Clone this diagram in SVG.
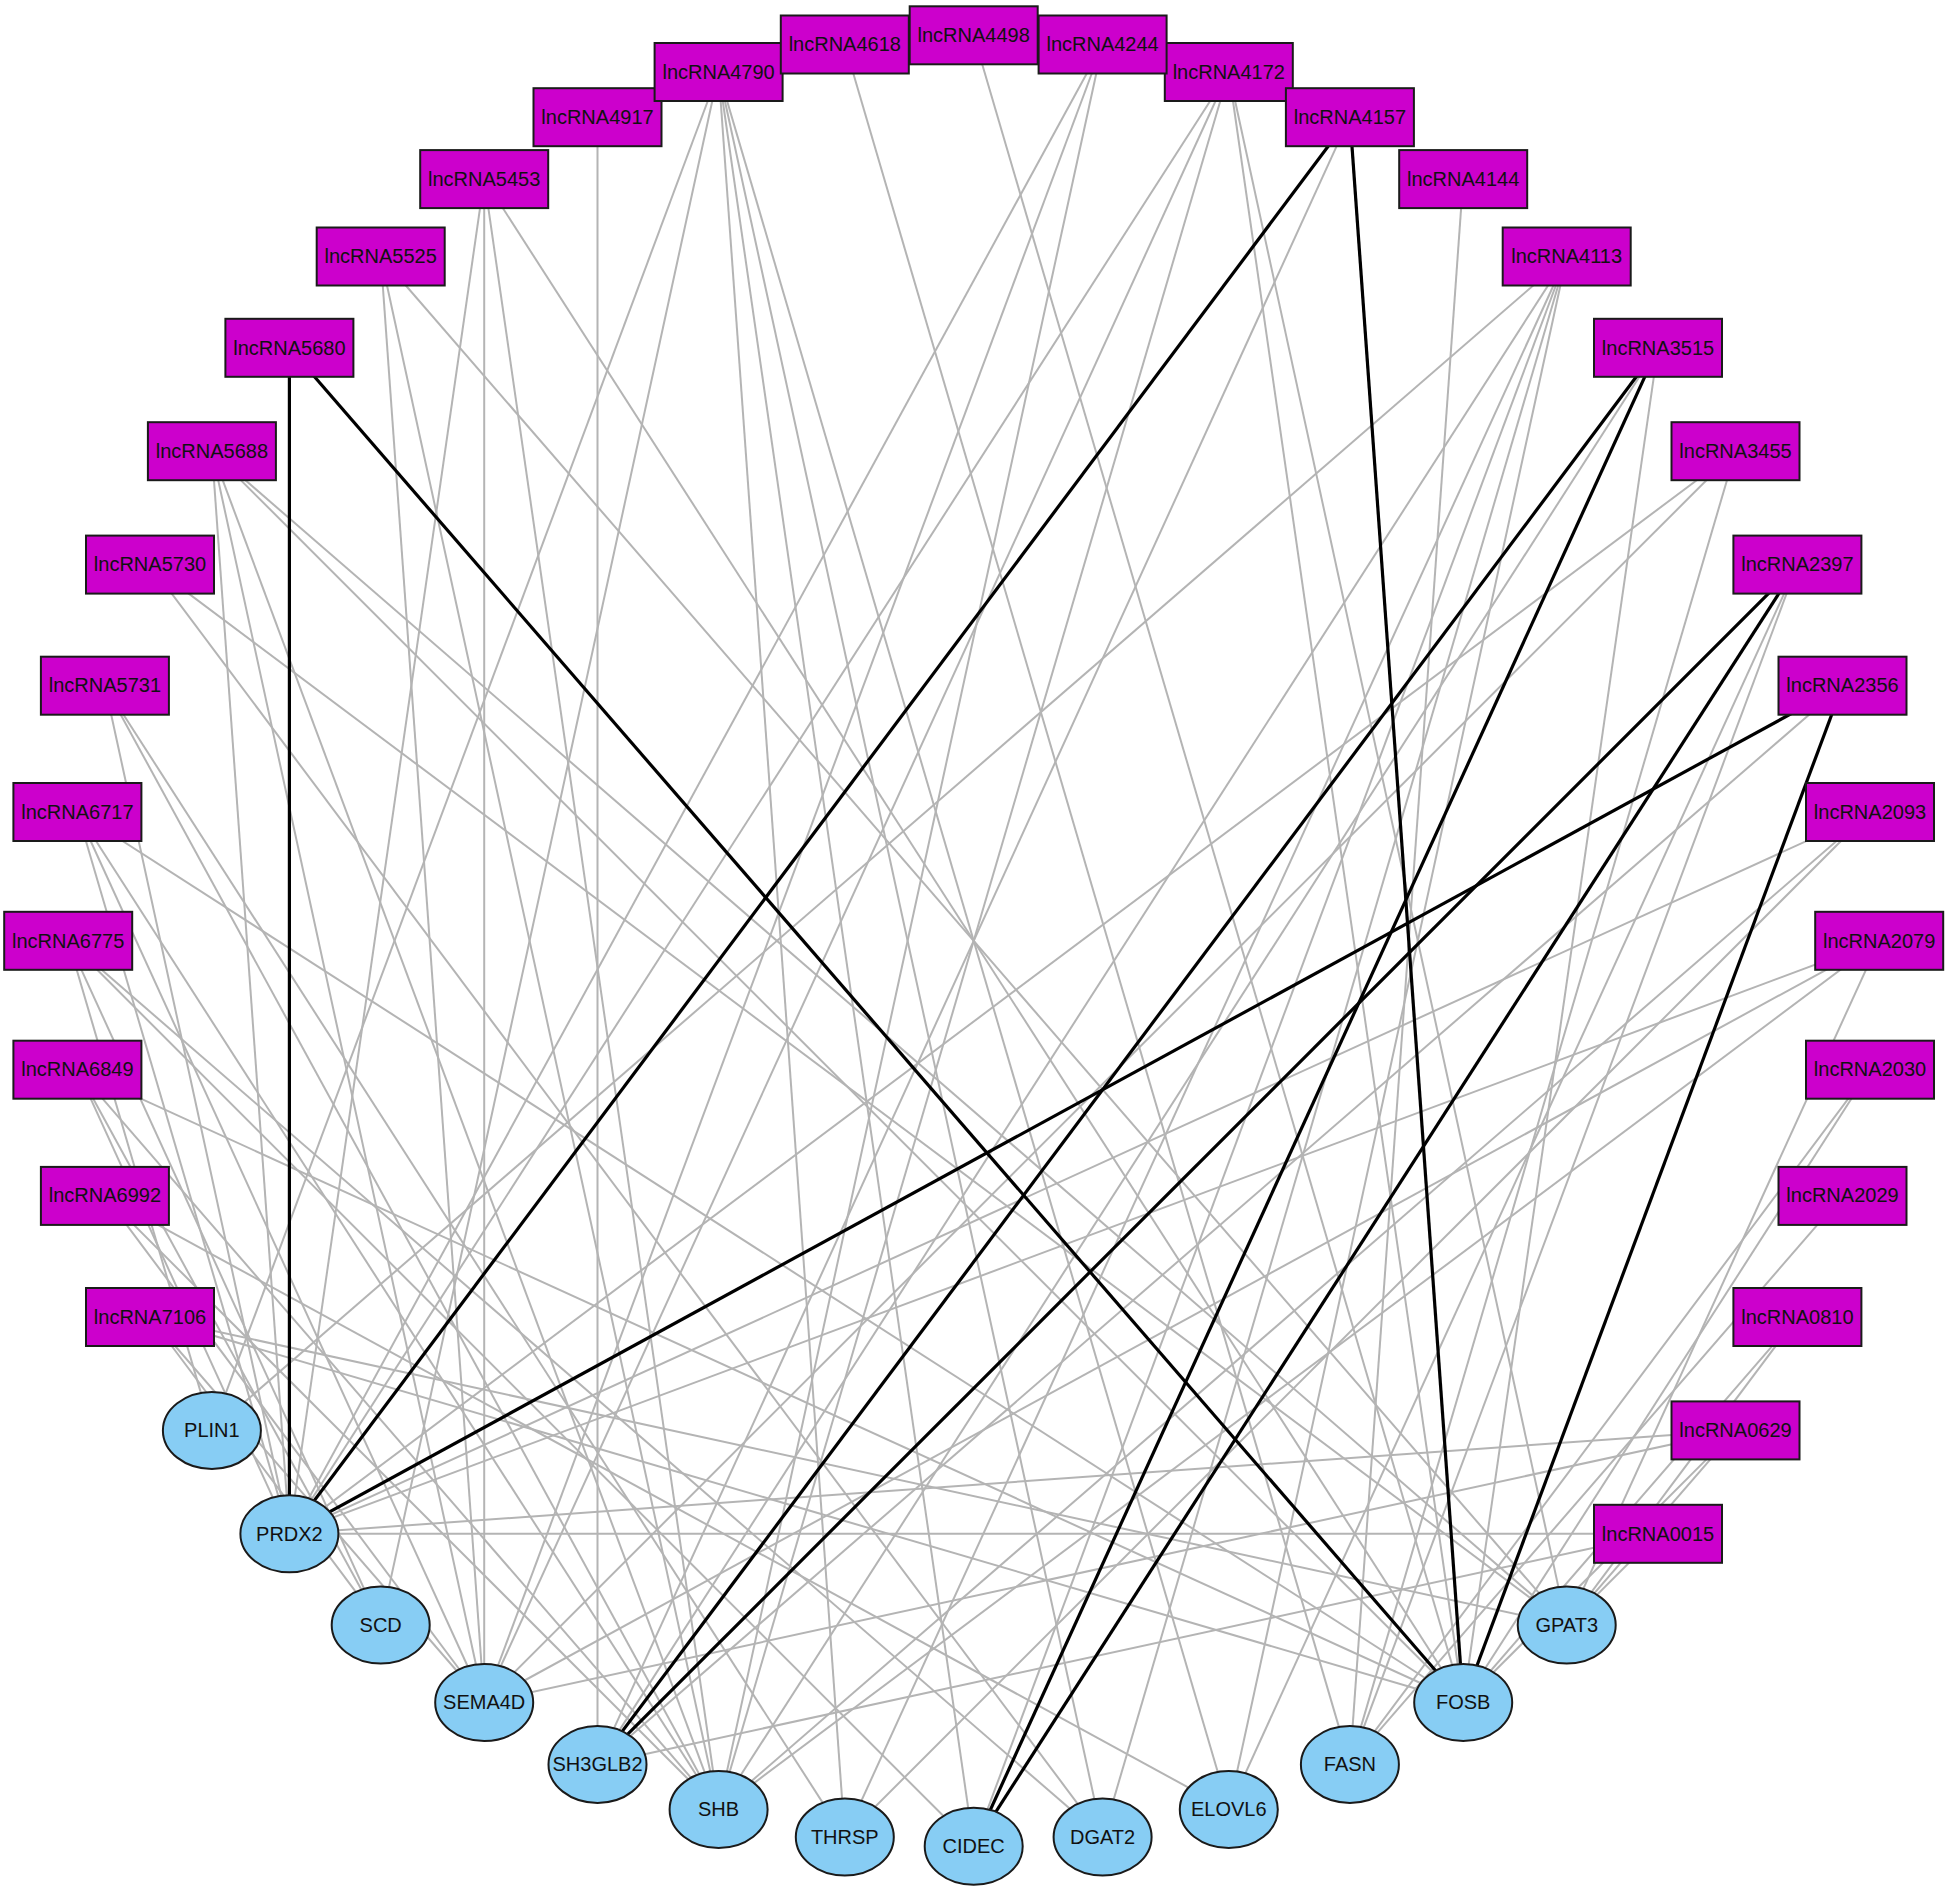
<svg xmlns="http://www.w3.org/2000/svg" width="1950" height="1892" viewBox="0 0 1950 1892">
<style>
.e{stroke:#b4b4b4;stroke-width:2;fill:none}
.b{stroke:#000;stroke-width:3.2;fill:none}
.r{fill:#cc00cc;stroke:#1a1a1a;stroke-width:2}
.o{fill:#87cdf4;stroke:#1a1a1a;stroke-width:2}
text{font-family:"Liberation Sans",Arial,sans-serif;font-size:20px;fill:#111;text-anchor:middle}
</style>
<rect width="1950" height="1892" fill="#fff"/>
<g id="edges">
<line class="e" x1="597.5" y1="117.2" x2="597.5" y2="1764.4"/>
<line class="e" x1="718.6" y1="72" x2="211.9" y2="1430.4"/>
<line class="e" x1="718.6" y1="72" x2="380.7" y2="1625.1"/>
<line class="e" x1="718.6" y1="72" x2="844.8" y2="1837.1"/>
<line class="e" x1="718.6" y1="72" x2="973.7" y2="1846.3"/>
<line class="e" x1="718.6" y1="72" x2="1102.6" y2="1837.1"/>
<line class="e" x1="718.6" y1="72" x2="1228.8" y2="1809.6"/>
<line class="e" x1="844.8" y1="44.5" x2="1349.9" y2="1764.4"/>
<line class="e" x1="973.7" y1="35.3" x2="1463.2" y2="1702.5"/>
<line class="e" x1="1102.6" y1="44.5" x2="289.4" y2="1533.8"/>
<line class="e" x1="1102.6" y1="44.5" x2="484.2" y2="1702.5"/>
<line class="e" x1="1102.6" y1="44.5" x2="718.6" y2="1809.6"/>
<line class="e" x1="1228.8" y1="72" x2="289.4" y2="1533.8"/>
<line class="e" x1="1228.8" y1="72" x2="484.2" y2="1702.5"/>
<line class="e" x1="1228.8" y1="72" x2="718.6" y2="1809.6"/>
<line class="e" x1="1228.8" y1="72" x2="1463.2" y2="1702.5"/>
<line class="e" x1="1228.8" y1="72" x2="1566.7" y2="1625.1"/>
<line class="e" x1="1349.9" y1="117.2" x2="597.5" y2="1764.4"/>
<line class="e" x1="1463.2" y1="179.1" x2="1349.9" y2="1764.4"/>
<line class="e" x1="1566.7" y1="256.5" x2="211.9" y2="1430.4"/>
<line class="e" x1="1566.7" y1="256.5" x2="597.5" y2="1764.4"/>
<line class="e" x1="1566.7" y1="256.5" x2="844.8" y2="1837.1"/>
<line class="e" x1="1566.7" y1="256.5" x2="973.7" y2="1846.3"/>
<line class="e" x1="1566.7" y1="256.5" x2="1102.6" y2="1837.1"/>
<line class="e" x1="1566.7" y1="256.5" x2="1228.8" y2="1809.6"/>
<line class="e" x1="1658" y1="347.8" x2="718.6" y2="1809.6"/>
<line class="e" x1="1658" y1="347.8" x2="1463.2" y2="1702.5"/>
<line class="e" x1="1735.5" y1="451.2" x2="289.4" y2="1533.8"/>
<line class="e" x1="1735.5" y1="451.2" x2="484.2" y2="1702.5"/>
<line class="e" x1="1735.5" y1="451.2" x2="1349.9" y2="1764.4"/>
<line class="e" x1="1797.4" y1="564.6" x2="1228.8" y2="1809.6"/>
<line class="e" x1="1797.4" y1="564.6" x2="1349.9" y2="1764.4"/>
<line class="e" x1="1842.5" y1="685.7" x2="597.5" y2="1764.4"/>
<line class="e" x1="1870" y1="812" x2="289.4" y2="1533.8"/>
<line class="e" x1="1870" y1="812" x2="718.6" y2="1809.6"/>
<line class="e" x1="1870" y1="812" x2="844.8" y2="1837.1"/>
<line class="e" x1="1879.2" y1="940.8" x2="289.4" y2="1533.8"/>
<line class="e" x1="1879.2" y1="940.8" x2="484.2" y2="1702.5"/>
<line class="e" x1="1879.2" y1="940.8" x2="718.6" y2="1809.6"/>
<line class="e" x1="1879.2" y1="940.8" x2="1566.7" y2="1625.1"/>
<line class="e" x1="1870" y1="1069.7" x2="1349.9" y2="1764.4"/>
<line class="e" x1="1870" y1="1069.7" x2="1463.2" y2="1702.5"/>
<line class="e" x1="1842.5" y1="1195.9" x2="1349.9" y2="1764.4"/>
<line class="e" x1="1797.4" y1="1317" x2="1566.7" y2="1625.1"/>
<line class="e" x1="1797.4" y1="1317" x2="1463.2" y2="1702.5"/>
<line class="e" x1="1735.5" y1="1430.4" x2="289.4" y2="1533.8"/>
<line class="e" x1="1735.5" y1="1430.4" x2="484.2" y2="1702.5"/>
<line class="e" x1="1735.5" y1="1430.4" x2="1463.2" y2="1702.5"/>
<line class="e" x1="1735.5" y1="1430.4" x2="1566.7" y2="1625.1"/>
<line class="e" x1="1658" y1="1533.8" x2="289.4" y2="1533.8"/>
<line class="e" x1="1658" y1="1533.8" x2="597.5" y2="1764.4"/>
<line class="e" x1="1658" y1="1533.8" x2="1566.7" y2="1625.1"/>
<line class="e" x1="484.2" y1="179.1" x2="289.4" y2="1533.8"/>
<line class="e" x1="484.2" y1="179.1" x2="484.2" y2="1702.5"/>
<line class="e" x1="484.2" y1="179.1" x2="718.6" y2="1809.6"/>
<line class="e" x1="484.2" y1="179.1" x2="1463.2" y2="1702.5"/>
<line class="e" x1="380.7" y1="256.5" x2="484.2" y2="1702.5"/>
<line class="e" x1="380.7" y1="256.5" x2="718.6" y2="1809.6"/>
<line class="e" x1="380.7" y1="256.5" x2="1566.7" y2="1625.1"/>
<line class="e" x1="211.9" y1="451.2" x2="289.4" y2="1533.8"/>
<line class="e" x1="211.9" y1="451.2" x2="484.2" y2="1702.5"/>
<line class="e" x1="211.9" y1="451.2" x2="718.6" y2="1809.6"/>
<line class="e" x1="211.9" y1="451.2" x2="1463.2" y2="1702.5"/>
<line class="e" x1="211.9" y1="451.2" x2="1566.7" y2="1625.1"/>
<line class="e" x1="150" y1="564.6" x2="1102.6" y2="1837.1"/>
<line class="e" x1="150" y1="564.6" x2="1566.7" y2="1625.1"/>
<line class="e" x1="104.9" y1="685.7" x2="289.4" y2="1533.8"/>
<line class="e" x1="104.9" y1="685.7" x2="718.6" y2="1809.6"/>
<line class="e" x1="104.9" y1="685.7" x2="844.8" y2="1837.1"/>
<line class="e" x1="77.4" y1="812" x2="289.4" y2="1533.8"/>
<line class="e" x1="77.4" y1="812" x2="484.2" y2="1702.5"/>
<line class="e" x1="77.4" y1="812" x2="718.6" y2="1809.6"/>
<line class="e" x1="77.4" y1="812" x2="1463.2" y2="1702.5"/>
<line class="e" x1="68.2" y1="940.8" x2="211.9" y2="1430.4"/>
<line class="e" x1="68.2" y1="940.8" x2="380.7" y2="1625.1"/>
<line class="e" x1="68.2" y1="940.8" x2="973.7" y2="1846.3"/>
<line class="e" x1="68.2" y1="940.8" x2="1102.6" y2="1837.1"/>
<line class="e" x1="77.4" y1="1069.7" x2="289.4" y2="1533.8"/>
<line class="e" x1="77.4" y1="1069.7" x2="380.7" y2="1625.1"/>
<line class="e" x1="77.4" y1="1069.7" x2="718.6" y2="1809.6"/>
<line class="e" x1="77.4" y1="1069.7" x2="1463.2" y2="1702.5"/>
<line class="e" x1="104.9" y1="1195.9" x2="484.2" y2="1702.5"/>
<line class="e" x1="104.9" y1="1195.9" x2="718.6" y2="1809.6"/>
<line class="e" x1="104.9" y1="1195.9" x2="1228.8" y2="1809.6"/>
<line class="e" x1="150" y1="1317" x2="380.7" y2="1625.1"/>
<line class="e" x1="150" y1="1317" x2="484.2" y2="1702.5"/>
<line class="e" x1="150" y1="1317" x2="1463.2" y2="1702.5"/>
<line class="e" x1="150" y1="1317" x2="1566.7" y2="1625.1"/>
<line class="b" x1="289.4" y1="347.8" x2="289.4" y2="1533.8"/>
<line class="b" x1="289.4" y1="347.8" x2="1463.2" y2="1702.5"/>
<line class="b" x1="1349.9" y1="117.2" x2="289.4" y2="1533.8"/>
<line class="b" x1="1349.9" y1="117.2" x2="1463.2" y2="1702.5"/>
<line class="b" x1="1658" y1="347.8" x2="597.5" y2="1764.4"/>
<line class="b" x1="1658" y1="347.8" x2="973.7" y2="1846.3"/>
<line class="b" x1="1797.4" y1="564.6" x2="597.5" y2="1764.4"/>
<line class="b" x1="1797.4" y1="564.6" x2="973.7" y2="1846.3"/>
<line class="b" x1="1842.5" y1="685.7" x2="289.4" y2="1533.8"/>
<line class="b" x1="1842.5" y1="685.7" x2="1463.2" y2="1702.5"/>
</g>
<g id="nodes">
<g id="n4498"><rect class="r" x="909.7" y="6.3" width="128" height="58"/><text x="973.7" y="42">lncRNA4498</text></g>
<g id="n4172"><rect class="r" x="1164.8" y="43" width="128" height="58"/><text x="1228.8" y="79">lncRNA4172</text></g>
<g id="n4244"><rect class="r" x="1038.6" y="15.5" width="128" height="58"/><text x="1102.6" y="51">lncRNA4244</text></g>
<g id="n4157"><rect class="r" x="1285.9" y="88.2" width="128" height="58"/><text x="1349.9" y="124">lncRNA4157</text></g>
<g id="n4144"><rect class="r" x="1399.2" y="150.1" width="128" height="58"/><text x="1463.2" y="186">lncRNA4144</text></g>
<g id="n4113"><rect class="r" x="1502.7" y="227.5" width="128" height="58"/><text x="1566.7" y="263">lncRNA4113</text></g>
<g id="n3515"><rect class="r" x="1594" y="318.8" width="128" height="58"/><text x="1658" y="355">lncRNA3515</text></g>
<g id="n3455"><rect class="r" x="1671.5" y="422.2" width="128" height="58"/><text x="1735.5" y="458">lncRNA3455</text></g>
<g id="n2397"><rect class="r" x="1733.4" y="535.6" width="128" height="58"/><text x="1797.4" y="571">lncRNA2397</text></g>
<g id="n2356"><rect class="r" x="1778.5" y="656.7" width="128" height="58"/><text x="1842.5" y="692">lncRNA2356</text></g>
<g id="n2093"><rect class="r" x="1806" y="783" width="128" height="58"/><text x="1870" y="819">lncRNA2093</text></g>
<g id="n2079"><rect class="r" x="1815.2" y="911.8" width="128" height="58"/><text x="1879.2" y="948">lncRNA2079</text></g>
<g id="n2030"><rect class="r" x="1806" y="1040.7" width="128" height="58"/><text x="1870" y="1076">lncRNA2030</text></g>
<g id="n2029"><rect class="r" x="1778.5" y="1166.9" width="128" height="58"/><text x="1842.5" y="1202">lncRNA2029</text></g>
<g id="n0810"><rect class="r" x="1733.4" y="1288" width="128" height="58"/><text x="1797.4" y="1324">lncRNA0810</text></g>
<g id="n0629"><rect class="r" x="1671.5" y="1401.4" width="128" height="58"/><text x="1735.5" y="1437">lncRNA0629</text></g>
<g id="n0015"><rect class="r" x="1594" y="1504.8" width="128" height="58"/><text x="1658" y="1541">lncRNA0015</text></g>
<g id="nGPAT3"><ellipse class="o" cx="1566.7" cy="1625.1" rx="49" ry="38.5"/><text x="1566.7" y="1632">GPAT3</text></g>
<g id="nFOSB"><ellipse class="o" cx="1463.2" cy="1702.5" rx="49" ry="38.5"/><text x="1463.2" y="1709">FOSB</text></g>
<g id="nFASN"><ellipse class="o" cx="1349.9" cy="1764.4" rx="49" ry="38.5"/><text x="1349.9" y="1771">FASN</text></g>
<g id="nELOVL6"><ellipse class="o" cx="1228.8" cy="1809.6" rx="49" ry="38.5"/><text x="1228.8" y="1816">ELOVL6</text></g>
<g id="nDGAT2"><ellipse class="o" cx="1102.6" cy="1837.1" rx="49" ry="38.5"/><text x="1102.6" y="1844">DGAT2</text></g>
<g id="nCIDEC"><ellipse class="o" cx="973.7" cy="1846.3" rx="49" ry="38.5"/><text x="973.7" y="1853">CIDEC</text></g>
<g id="nTHRSP"><ellipse class="o" cx="844.8" cy="1837.1" rx="49" ry="38.5"/><text x="844.8" y="1844">THRSP</text></g>
<g id="nSHB"><ellipse class="o" cx="718.6" cy="1809.6" rx="49" ry="38.5"/><text x="718.6" y="1816">SHB</text></g>
<g id="nSH3GLB2"><ellipse class="o" cx="597.5" cy="1764.4" rx="49" ry="38.5"/><text x="597.5" y="1771">SH3GLB2</text></g>
<g id="nSEMA4D"><ellipse class="o" cx="484.2" cy="1702.5" rx="49" ry="38.5"/><text x="484.2" y="1709">SEMA4D</text></g>
<g id="nSCD"><ellipse class="o" cx="380.7" cy="1625.1" rx="49" ry="38.5"/><text x="380.7" y="1632">SCD</text></g>
<g id="nPRDX2"><ellipse class="o" cx="289.4" cy="1533.8" rx="49" ry="38.5"/><text x="289.4" y="1541">PRDX2</text></g>
<g id="nPLIN1"><ellipse class="o" cx="211.9" cy="1430.4" rx="49" ry="38.5"/><text x="211.9" y="1437">PLIN1</text></g>
<g id="n7106"><rect class="r" x="86" y="1288" width="128" height="58"/><text x="150" y="1324">lncRNA7106</text></g>
<g id="n6992"><rect class="r" x="40.9" y="1166.9" width="128" height="58"/><text x="104.9" y="1202">lncRNA6992</text></g>
<g id="n6849"><rect class="r" x="13.4" y="1040.7" width="128" height="58"/><text x="77.4" y="1076">lncRNA6849</text></g>
<g id="n6775"><rect class="r" x="4.2" y="911.8" width="128" height="58"/><text x="68.2" y="948">lncRNA6775</text></g>
<g id="n6717"><rect class="r" x="13.4" y="783" width="128" height="58"/><text x="77.4" y="819">lncRNA6717</text></g>
<g id="n5731"><rect class="r" x="40.9" y="656.7" width="128" height="58"/><text x="104.9" y="692">lncRNA5731</text></g>
<g id="n5730"><rect class="r" x="86" y="535.6" width="128" height="58"/><text x="150" y="571">lncRNA5730</text></g>
<g id="n5688"><rect class="r" x="147.9" y="422.2" width="128" height="58"/><text x="211.9" y="458">lncRNA5688</text></g>
<g id="n5680"><rect class="r" x="225.4" y="318.8" width="128" height="58"/><text x="289.4" y="355">lncRNA5680</text></g>
<g id="n5525"><rect class="r" x="316.7" y="227.5" width="128" height="58"/><text x="380.7" y="263">lncRNA5525</text></g>
<g id="n5453"><rect class="r" x="420.2" y="150.1" width="128" height="58"/><text x="484.2" y="186">lncRNA5453</text></g>
<g id="n4917"><rect class="r" x="533.5" y="88.2" width="128" height="58"/><text x="597.5" y="124">lncRNA4917</text></g>
<g id="n4790"><rect class="r" x="654.6" y="43" width="128" height="58"/><text x="718.6" y="79">lncRNA4790</text></g>
<g id="n4618"><rect class="r" x="780.8" y="15.5" width="128" height="58"/><text x="844.8" y="51">lncRNA4618</text></g>
</g>
</svg>
